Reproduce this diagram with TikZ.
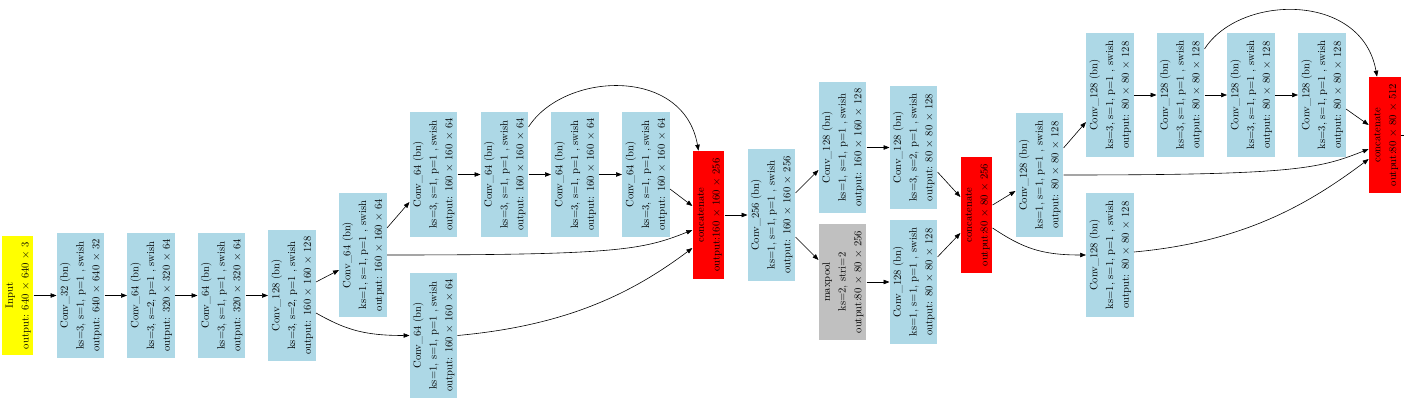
\documentclass[tikz,border=0pt]{standalone}
\usepackage{amsmath, amssymb}
\usepackage{tikz}
\usetikzlibrary{arrows.meta}

\definecolor{convblue}{HTML}{ADD8E6}
\definecolor{catred}{HTML}{FF0000}
\definecolor{inyellow}{HTML}{FFFF00}
\definecolor{poolgray}{HTML}{C0C0C0}

\newcommand{\vlabel}[1]{\rotatebox{90}{\begin{tabular}{@{}c@{}}#1\end{tabular}}}

\tikzset{
  layer/.style = {fill = convblue, minimum width = 47pt, inner sep = 0pt,
                  font = \fontsize{10.6}{15.8}\selectfont},
  catbox/.style = {layer, fill = catred, minimum width = 31pt},
  inbox/.style = {layer, fill = inyellow, minimum width = 31pt},
  poolbox/.style = {layer, fill = poolgray}
}

\begin{document}
\begin{tikzpicture}[x=1pt, y=-1pt, line width=0.6pt, >={Triangle[length=6pt, width=4.5pt]}]
\useasboundingbox (0,0) rectangle (1404,403);

% backbone
\node[inbox, minimum height=119pt] (in) at (17.5,295.5) {\vlabel{Input\\ output: 640 $\times$ 640 $\times$ 3}};
\node[layer, minimum height=125pt] (c32) at (80.5,295.5) {\vlabel{Conv\_32 (bn)\\ ks=3, s=1, p=1 , swish\\ output: 640 $\times$ 640 $\times$ 32}};
\node[layer, minimum height=125pt] (c64a) at (151,295.5) {\vlabel{Conv\_64 (bn)\\ ks=3, s=2, p=1 , swish\\ output: 320 $\times$ 320 $\times$ 64}};
\node[layer, minimum height=125pt] (c64b) at (221.5,295.5) {\vlabel{Conv\_64 (bn)\\ ks=3, s=1, p=1 , swish\\ output: 320 $\times$ 320 $\times$ 64}};
\node[layer, minimum height=131pt] (c128a) at (292,295.5) {\vlabel{Conv\_128 (bn)\\ ks=3, s=2, p=1 , swish\\ output: 160 $\times$ 160 $\times$ 128}};

% first block
\node[layer, minimum height=124pt] (c64c) at (363,255) {\vlabel{Conv\_64 (bn)\\ ks=1, s=1, p=1 , swish\\ output: 160 $\times$ 160 $\times$ 64}};
\node[layer, minimum height=125pt] (c64d) at (433.5,335.5) {\vlabel{Conv\_64 (bn)\\ ks=1, s=1, p=1 , swish\\ output: 160 $\times$ 160 $\times$ 64}};
\node[layer, minimum height=125pt] (t1) at (433.5,174.5) {\vlabel{Conv\_64 (bn)\\ ks=3, s=1, p=1 , swish\\ output: 160 $\times$ 160 $\times$ 64}};
\node[layer, minimum height=125pt] (t2) at (504.5,174.5) {\vlabel{Conv\_64 (bn)\\ ks=3, s=1, p=1 , swish\\ output: 160 $\times$ 160 $\times$ 64}};
\node[layer, minimum height=125pt] (t3) at (575,174.5) {\vlabel{Conv\_64 (bn)\\ ks=3, s=1, p=1 , swish\\ output: 160 $\times$ 160 $\times$ 64}};
\node[layer, minimum height=125pt] (t4) at (646,174.5) {\vlabel{Conv\_64 (bn)\\ ks=3, s=1, p=1 , swish\\ output: 160 $\times$ 160 $\times$ 64}};
\node[catbox, minimum height=128pt] (cat1) at (708.5,215) {\vlabel{concatenate\\ output:160 $\times$ 160 $\times$ 256}};
\node[layer, minimum height=132pt] (c256) at (771.5,215) {\vlabel{Conv\_256 (bn)\\ ks=1, s=1, p=1 , swish\\ output: 160 $\times$ 160 $\times$ 256}};

% downsampling
\node[layer, minimum height=131pt] (c128b) at (842.5,147.5) {\vlabel{Conv\_128 (bn)\\ ks=1, s=1, p=1 , swish\\ output: 160 $\times$ 160 $\times$ 128}};
\node[poolbox, minimum height=116pt] (mp) at (842.5,282) {\vlabel{maxpool\\ ks=2, stri=2\\ output:80 $\times$ 80 $\times$ 256}};
\node[layer, minimum height=123pt] (c128c) at (913.5,147.5) {\vlabel{Conv\_128 (bn)\\ ks=3, s=2, p=1 , swish\\ output: 80 $\times$ 80 $\times$ 128}};
\node[layer, minimum height=123pt] (c128d) at (913.5,282) {\vlabel{Conv\_128 (bn)\\ ks=1, s=1, p=1 , swish\\ output: 80 $\times$ 80 $\times$ 128}};
\node[catbox, minimum height=116pt] (cat2) at (976.5,215) {\vlabel{concatenate\\ output:80 $\times$ 80 $\times$ 256}};

% second block
\node[layer, minimum height=124pt] (c128e) at (1039.5,175) {\vlabel{Conv\_128 (bn)\\ ks=1, s=1, p=1 , swish\\ output: 80 $\times$ 80 $\times$ 128}};
\node[layer, minimum height=124pt] (c128f) at (1110,255) {\vlabel{Conv\_128 (bn)\\ ks=1, s=1, p=1 , swish\\ output: 80 $\times$ 80 $\times$ 128}};
\node[layer, minimum height=124pt] (u1) at (1110,95) {\vlabel{Conv\_128 (bn)\\ ks=3, s=1, p=1 , swish\\ output: 80 $\times$ 80 $\times$ 128}};
\node[layer, minimum height=124pt] (u2) at (1180.5,95) {\vlabel{Conv\_128 (bn)\\ ks=3, s=1, p=1 , swish\\ output: 80 $\times$ 80 $\times$ 128}};
\node[layer, minimum height=124pt] (u3) at (1251,95) {\vlabel{Conv\_128 (bn)\\ ks=3, s=1, p=1 , swish\\ output: 80 $\times$ 80 $\times$ 128}};
\node[layer, minimum height=124pt] (u4) at (1322,95) {\vlabel{Conv\_128 (bn)\\ ks=3, s=1, p=1 , swish\\ output: 80 $\times$ 80 $\times$ 128}};
\node[catbox, minimum width=32pt, minimum height=116pt] (cat3) at (1385,135) {\vlabel{concatenate\\ output:80 $\times$ 80 $\times$ 512}};
\coordinate (outend) at (1404,135);

% connectors
\draw[->] (in) -- (c32);
\draw[->] (c32) -- (c64a);
\draw[->] (c64a) -- (c64b);
\draw[->] (c64b) -- (c128a);
\draw[->] ([yshift=13.5pt]c128a.east) -- ([yshift=-15pt]c64c.west);
\draw[->] ([yshift=-17.5pt]c128a.east) .. controls +(30,17) and +(-45,0) .. (c64d.west);
\draw[->] ([yshift=27pt]c64c.east) -- ([yshift=-27.5pt]t1.west);
\draw[->] (c64c.east) .. controls +(230,0) and +(-50,20) .. ([yshift=-15pt]cat1.west);
\draw[->] (c64d.east) .. controls +(110,-10) and +(-60,45) .. ([yshift=-33pt]cat1.west);
\draw[->] (t1) -- (t2);
\draw[->] (t2) -- (t3);
\draw[->] (t3) -- (t4);
\draw[->] ([yshift=47.5pt]t2.east) .. controls +(35,-55) and +(-15,-85) .. ([xshift=-10pt]cat1.north);
\draw[->] ([yshift=-14.5pt]t4.east) -- ([yshift=9pt]cat1.west);
\draw[->] (cat1) -- (c256);
\draw[->] ([yshift=22pt]c256.east) -- ([yshift=-22.5pt]c128b.west);
\draw[->] ([yshift=-22pt]c256.east) -- ([yshift=22pt]mp.west);
\draw[->] (c128b) -- (c128c);
\draw[->] (mp) -- (c128d);
\draw[->] ([yshift=-24.5pt]c128c.east) -- ([yshift=18pt]cat2.west);
\draw[->] ([yshift=25pt]c128d.east) -- ([yshift=-18pt]cat2.west);
\draw[->] ([yshift=10pt]cat2.east) -- ([yshift=-16pt]c128e.west);
\draw[->] ([yshift=-13pt]cat2.east) .. controls +(30,20) and +(-45,0) .. (c128f.west);
\draw[->] ([yshift=27pt]c128e.east) -- ([yshift=-27pt]u1.west);
\draw[->] (c128e.east) .. controls +(230,0) and +(-50,20) .. ([yshift=-14pt]cat3.west);
\draw[->] ([yshift=3pt]c128f.east) .. controls +(110,-10) and +(-60,45) .. ([yshift=-24pt]cat3.west);
\draw[->] (u1) -- (u2);
\draw[->] (u2) -- (u3);
\draw[->] (u3) -- (u4);
\draw[->] ([yshift=46pt]u2.east) .. controls +(35,-55) and +(-15,-85) .. ([xshift=-8pt]cat3.north);
\draw[->] ([yshift=-14pt]u4.east) -- ([yshift=10pt]cat3.west);
\draw (cat3.east) -- (outend);
\end{tikzpicture}
\end{document}
